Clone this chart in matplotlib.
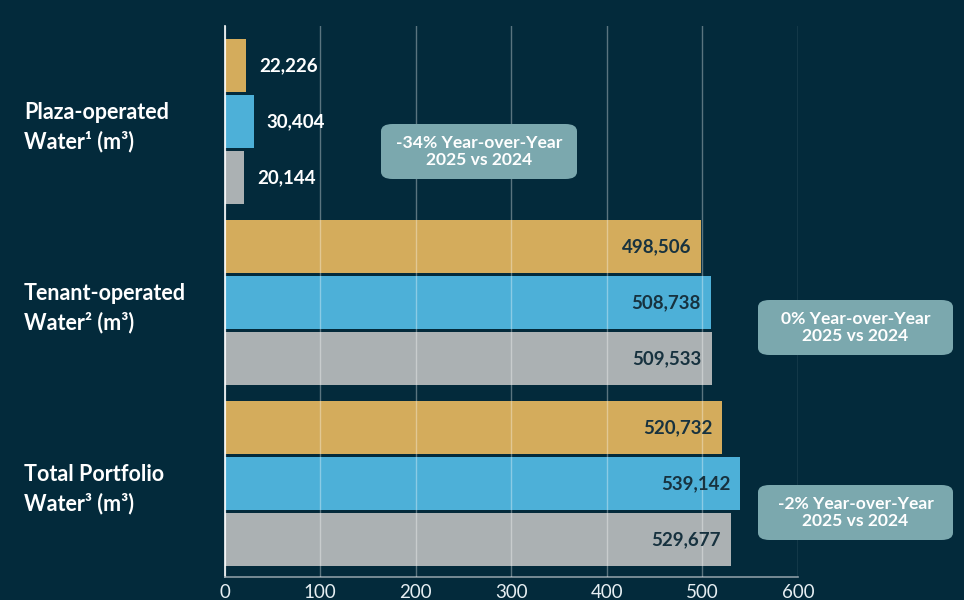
import matplotlib
matplotlib.use("Agg")
import matplotlib.pyplot as plt
from matplotlib.patches import FancyBboxPatch

# ---- data ----
categories = ["Plaza-operated\nWater\u00b9 (m\u00b3)",
              "Tenant-operated\nWater\u00b2 (m\u00b3)",
              "Total Portfolio\nWater\u00b3 (m\u00b3)"]
series_names = ["2023", "2024", "2025"]
values_2023 = [22226, 498506, 520732]
values_2024 = [30404, 508738, 539142]
values_2025 = [20144, 509533, 529677]
x_ticks = [0, 100, 200, 300, 400, 500, 600]
yoy_labels = ["-34% Year-over-Year\n2025 vs 2024",
              "0% Year-over-Year\n2025 vs 2024",
              "-2% Year-over-Year\n2025 vs 2024"]

# ---- style ----
BG = "#032a3b"
colors = ["#d4ac5c", "#4db0d8", "#abb1b3"]
DARK = "#17323f"
BOX = "#7ba8ae"
FONT = ["Lato", "DejaVu Sans"]
plt.rcParams["font.family"] = FONT

fig = plt.figure(figsize=(9.64, 6.0), dpi=100, facecolor=BG)
W, H = 964, 600
L, R, T, B = 224.5, 798, 26, 577
ax = fig.add_axes([L / W, 1 - B / H, (R - L) / W, (B - T) / H])
ax.set_facecolor(BG)

slot = 1.0
bar_h = 53 / 56
group_step = 181 / 56
all_series = [values_2023, values_2024, values_2025]

for gi in range(len(categories)):
    for si, vals in enumerate(all_series):
        yc = gi * group_step + si * slot
        v = vals[gi] / 1000.0
        ax.barh(yc, v, height=bar_h, color=colors[si], zorder=2)
        label = f"{vals[gi]:,}"
        if v < 100:
            ax.annotate(label, (v, yc), xytext=(9.5, 0), textcoords="offset points",
                        ha="left", va="center", color="white", fontsize=13.5,
                        fontweight="bold", zorder=4)
        else:
            ax.annotate(label, (v, yc), xytext=(-7, 0), textcoords="offset points",
                        ha="right", va="center", color=DARK, fontsize=13.5,
                        fontweight="bold", zorder=4)
    # category label
    gc = gi * group_step + slot
    ax.text((24 - L) / (R - L), gc + 0.1, categories[gi],
            transform=ax.get_yaxis_transform(),
            ha="left", va="center", color="white", fontsize=15.5,
            fontweight="bold", linespacing=1.45)

ax.set_xlim(0, 600)
top_pad = (39 + 26.5 - T) / 56
ax.set_ylim((B - T) / 56 - top_pad, -top_pad)
ax.set_xticks(x_ticks)
ax.set_xticklabels([str(t) for t in x_ticks], color="#e6eef2", fontsize=13.5)
ax.tick_params(axis="x", length=0, pad=5)
ax.set_yticks([])
ax.grid(axis="x", color="white", alpha=0.35, linewidth=1, zorder=3)
ax.set_axisbelow(False)
for s in ["top", "right"]:
    ax.spines[s].set_visible(False)
ax.spines["left"].set_color("white")
ax.spines["left"].set_linewidth(1.2)
ax.spines["bottom"].set_color("#8a9aa3")
ax.spines["bottom"].set_linewidth(1.2)

# ---- YoY boxes (figure pixel coords) ----
boxes = [(381, 124, 196, 55), (758, 300, 195, 55), (758, 485, 195, 55)]
for (bx, by, bw, bh), txt in zip(boxes, yoy_labels):
    p = FancyBboxPatch((bx / W, 1 - (by + bh) / H), bw / W, bh / H,
                       boxstyle="round,pad=0,rounding_size=0.012",
                       transform=fig.transFigure, facecolor=BOX,
                       edgecolor="none", zorder=5)
    fig.patches.append(p)
    fig.text((bx + bw / 2) / W, 1 - (by + bh / 2) / H, txt, ha="center",
             va="center", color="white", fontsize=12.6, fontweight="bold",
             linespacing=1.15, zorder=6)

fig.savefig("out.png", dpi=100, facecolor=BG)
